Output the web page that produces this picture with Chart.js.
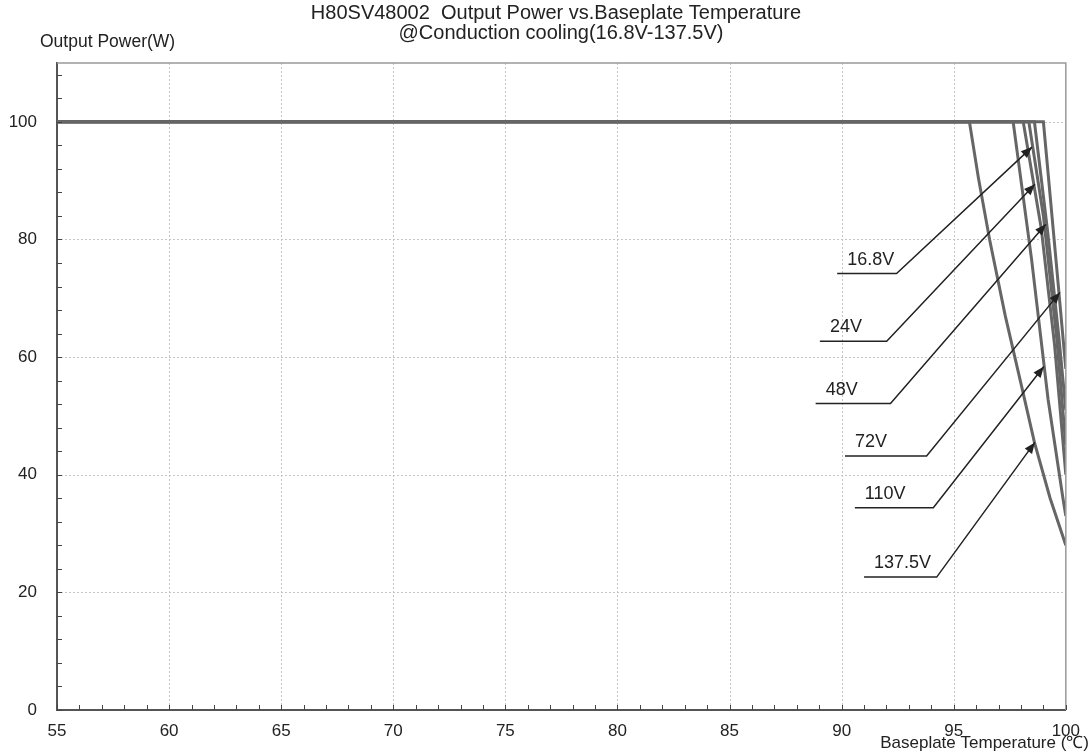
<!DOCTYPE html>
<html lang="en">
<head>
    <meta charset="UTF-8">
    <title>H80SV48002 Output Power vs. Baseplate Temperature</title>
    <script src="https://cdn.jsdelivr.net/npm/chart.js"></script>
    <style>
        body { margin: 0; background: #fff; font-family: 'Liberation Sans', Arial, sans-serif; }
        #wrap { width: 1091px; height: 753px; position: relative; }
    </style>
</head>
<body>
    <div id="wrap"><canvas id="derating"></canvas></div>

    <script>
        // derating curves (temperature in C, power in W)
        const t168 = [55, 98.1, 98.9, 99.5, 100];
        const p168 = [100, 100, 82, 62, 40];
        const t24 = [55, 98.35, 99.0, 99.6, 100];
        const p24 = [100, 100, 84, 63, 45];
        const t48 = [55, 98.6, 99.2, 99.7, 100];
        const p48 = [100, 100, 81, 63, 51];
        const t72 = [55, 99.0, 99.55, 100];
        const p72 = [100, 100, 77, 58];
        const t110 = [55, 97.65, 98.47, 99.21, 99.88, 100];
        const p110 = [100, 100, 76.7, 52.8, 35.8, 33];
        const t1375 = [55, 95.7, 96.1, 96.6, 97.3, 98.0, 98.6, 99.3, 100];
        const p1375 = [100, 100, 90.5, 80, 67, 55.5, 45.5, 36, 28];

        // callout labels: underline (from/to temp, power) and arrow tip
        const labelText = ['16.8V', '24V', '48V', '72V', '110V', '137.5V'];
        const lineFromT = [89.80, 89.03, 88.84, 90.15, 90.59, 91.0];
        const lineToT = [92.45, 92.01, 92.18, 93.79, 94.09, 94.24];
        const lineP = [74.2, 62.7, 52.1, 43.2, 34.4, 22.6];
        const tipT = [98.49, 98.62, 99.11, 99.74, 99.02, 98.62];
        const tipP = [95.7, 89.4, 82.6, 71.0, 58.4, 45.5];

        const titleLines = ['H80SV48002  Output Power vs.Baseplate Temperature', '@Conduction cooling(16.8V-137.5V)'];
        const yTitle = 'Output Power(W)';
        const xTitle = 'Baseplate Temperature (\u2103)';

        const FONT = "'Liberation Sans', Arial, sans-serif";

        function pts(ts, ps) {
            return ts.map((t, i) => ({ x: t, y: ps[i] }));
        }

        const series = [
            [t168, p168], [t24, p24], [t48, p48], [t72, p72], [t110, p110], [t1375, p1375]
        ];

        const datasets = series.map((s, i) => ({
            label: labelText[i],
            data: pts(s[0], s[1]),
            borderColor: '#666666',
            borderWidth: 3,
            pointRadius: 0,
            showLine: true,
            tension: 0,
            fill: false
        }));

        // dotted grid under the curves
        const dottedGrid = {
            id: 'dottedGrid',
            beforeDatasetsDraw(chart) {
                const c = chart.ctx;
                const xs = chart.scales.x, ys = chart.scales.y;
                const a = chart.chartArea;
                c.save();
                c.strokeStyle = '#c4c4c4';
                c.lineWidth = 1;
                c.setLineDash([2, 2]);
                c.beginPath();
                for (let t = 60; t < 100; t += 5) {
                    const px = Math.round(xs.getPixelForValue(t)) + 0.5;
                    c.moveTo(px, a.top); c.lineTo(px, a.bottom);
                }
                for (let p = 20; p <= 100; p += 20) {
                    const py = Math.round(ys.getPixelForValue(p)) + 0.5;
                    c.moveTo(a.left, py); c.lineTo(a.right, py);
                }
                c.stroke();
                c.restore();
            }
        };

        // frame, inward ticks, callouts and titles
        const decorations = {
            id: 'decorations',
            afterDatasetsDraw(chart) {
                const c = chart.ctx;
                const xs = chart.scales.x, ys = chart.scales.y;
                const a = chart.chartArea;
                c.save();

                // top/right frame
                c.strokeStyle = '#999';
                c.lineWidth = 1.5;
                c.beginPath();
                c.moveTo(a.left, a.top); c.lineTo(a.right, a.top); c.lineTo(a.right, a.bottom);
                c.stroke();

                // minor ticks pointing inward
                c.strokeStyle = '#444';
                c.lineWidth = 1;
                c.beginPath();
                for (let t = 55; t <= 100; t++) {
                    const px = Math.round(xs.getPixelForValue(t)) + 0.5;
                    c.moveTo(px, a.bottom); c.lineTo(px, a.bottom - 5);
                }
                for (let p = 0; p <= 108; p += 4) {
                    const py = Math.round(ys.getPixelForValue(p)) + 0.5;
                    c.moveTo(a.left, py); c.lineTo(a.left + 5, py);
                }
                c.stroke();

                // callouts
                c.strokeStyle = '#222';
                c.fillStyle = '#222';
                c.lineWidth = 1.5;
                c.font = '18px ' + FONT;
                c.textAlign = 'left';
                c.textBaseline = 'alphabetic';
                labelText.forEach((txt, i) => {
                    const x1 = xs.getPixelForValue(lineFromT[i]);
                    const x2 = xs.getPixelForValue(lineToT[i]);
                    const y0 = ys.getPixelForValue(lineP[i]);
                    const tx = xs.getPixelForValue(tipT[i]);
                    const ty = ys.getPixelForValue(tipP[i]);
                    c.beginPath();
                    c.moveTo(x1, y0); c.lineTo(x2, y0); c.lineTo(tx, ty);
                    c.stroke();
                    const ang = Math.atan2(ty - y0, tx - x2);
                    const L = 11, W = 4.5;
                    c.beginPath();
                    c.moveTo(tx, ty);
                    c.lineTo(tx - L * Math.cos(ang) + W * Math.sin(ang), ty - L * Math.sin(ang) - W * Math.cos(ang));
                    c.lineTo(tx - L * Math.cos(ang) - W * Math.sin(ang), ty - L * Math.sin(ang) + W * Math.cos(ang));
                    c.closePath();
                    c.fill();
                    c.fillText(txt, x1 + 10, y0 - 9);
                });

                // titles
                c.fillStyle = '#222';
                c.font = '20px ' + FONT;
                c.textAlign = 'center';
                c.textBaseline = 'middle';
                c.fillText(titleLines[0], 556, 13);
                c.fillText(titleLines[1], 561, 33);

                c.font = '17.5px ' + FONT;
                c.textAlign = 'left';
                c.fillText(yTitle, 40, 42);
                c.font = '17px ' + FONT;
                c.textAlign = 'right';
                c.fillText(xTitle, 1089, 743);
                c.restore();
            }
        };

        new Chart(document.getElementById('derating'), {
            type: 'scatter',
            data: { datasets: datasets },
            options: {
                responsive: true,
                maintainAspectRatio: false,
                animation: false,
                layout: { padding: { top: 63, right: 25, left: 0, bottom: 0 } },
                plugins: { legend: { display: false }, tooltip: { enabled: false } },
                scales: {
                    x: {
                        type: 'linear',
                        min: 55,
                        max: 100,
                        afterFit: (s) => { s.height = 43; },
                        ticks: {
                            stepSize: 1,
                            autoSkip: false,
                            maxRotation: 0,
                            padding: 11,
                            color: '#222',
                            font: { size: 17, family: FONT },
                            callback: (v) => (v % 5 === 0 ? v : '')
                        },
                        grid: { display: false, drawTicks: false },
                        border: { color: '#555', width: 2 }
                    },
                    y: {
                        min: 0,
                        max: 110,
                        afterFit: (s) => { s.width = 57; },
                        ticks: {
                            stepSize: 4,
                            autoSkip: false,
                            padding: 20,
                            color: '#222',
                            font: { size: 17, family: FONT },
                            callback: (v) => (v % 20 === 0 ? v : '')
                        },
                        grid: { display: false, drawTicks: false },
                        border: { color: '#555', width: 2 }
                    }
                }
            },
            plugins: [dottedGrid, decorations]
        });
    </script>
</body>
</html>
